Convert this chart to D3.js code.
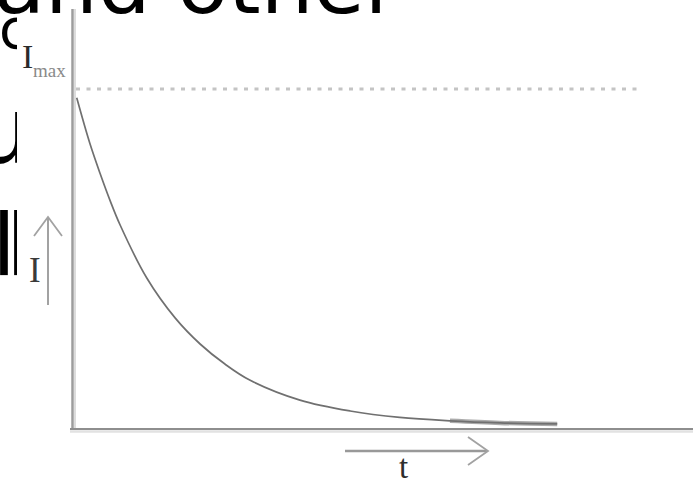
<!DOCTYPE html>
<html>
<head>
<meta charset="utf-8">
<script src="https://cdn.jsdelivr.net/npm/d3@7/dist/d3.min.js"></script>
<style>
html,body{margin:0;padding:0;background:#fff;overflow:hidden;}
svg{display:block;}
</style>
</head>
<body>
<svg id="chart" width="693" height="480"></svg>
<script>
// ---- data ----
const tValues = [0.06, 0.27, 0.44, 0.60, 0.76, 1.19, 1.65, 2.05, 2.45, 2.85, 3.66, 4.47, 5.27, 6.08, 6.89, 7.81];
const iValues = [97.4, 84.1, 75.0, 67.1, 60.0, 44.4, 32.6, 25.0, 19.1, 14.4, 8.5, 5.3, 3.4, 2.4, 1.8, 1.5];
const tailStart = 6.0;            // thick light tail of the curve begins here
const iMaxValue = 100;            // dotted reference line
const dottedEnd = 9.1;
const axisLabels = ["I", "max", "I", "t"];
const backgroundWords = ["and other", "c", "u", "ll"];

const W = 693, H = 480;
const svg = d3.select("#chart");

const x = d3.scaleLinear().domain([0, 10]).range([73, 693]);
const y = d3.scaleLinear().domain([0, 100]).range([429, 89]);

// ---- background page text (partly hidden behind the chart image) ----
const bg = svg.append("g").attr("font-family", "DejaVu Sans").attr("fill", "#000");
bg.append("text").attr("x", -6).attr("y", 13).attr("font-size", 80)
  .attr("textLength", 405).attr("lengthAdjust", "spacingAndGlyphs").text(backgroundWords[0]);
bg.append("text").attr("x", -1).attr("y", 48).attr("font-size", 55).text(backgroundWords[1]);
bg.append("text").attr("x", -27).attr("y", 163).attr("font-size", 93).text(backgroundWords[2]);
bg.append("text").attr("x", -8).attr("y", 275).attr("font-size", 86)
  .attr("letter-spacing", -10).text(backgroundWords[3]);

// chart image area (white) covering the text
svg.append("rect").attr("x", 17).attr("y", 14).attr("width", W).attr("height", H).attr("fill", "#fff");

const g = svg.append("g");

// ---- dotted Imax line ----
g.append("line")
  .attr("x1", x(0) + 3).attr("x2", x(dottedEnd))
  .attr("y1", y(iMaxValue)).attr("y2", y(iMaxValue))
  .attr("stroke", "#c4c4c4").attr("stroke-width", 3)
  .attr("stroke-dasharray", "4,6.5");

// ---- axes ----
const yTop = y.invert(9);
g.append("line").attr("x1", x(0) - 0.5).attr("x2", x(0) - 0.5)
  .attr("y1", y(yTop)).attr("y2", y(0) + 1)
  .attr("stroke", "#9c9c9c").attr("stroke-width", 2.5);
g.append("line").attr("x1", x(0) + 2).attr("x2", x(0) + 2)
  .attr("y1", y(yTop)).attr("y2", y(0) - 1)
  .attr("stroke", "#dcdcdc").attr("stroke-width", 2);
g.append("line").attr("x1", x(0) - 3).attr("x2", x(10))
  .attr("y1", y(0)).attr("y2", y(0))
  .attr("stroke", "#8e8e8e").attr("stroke-width", 2);
g.append("line").attr("x1", x(0) - 3).attr("x2", x(10))
  .attr("y1", y(0) + 2.5).attr("y2", y(0) + 2.5)
  .attr("stroke", "#e2e2e2").attr("stroke-width", 2.5);

// ---- decay curve ----
const pts = tValues.map((t, i) => ({t, v: iValues[i]}));
const line = d3.line().x(d => x(d.t)).y(d => y(d.v)).curve(d3.curveCatmullRom.alpha(0.5));
g.append("path").datum(pts.filter(d => d.t >= tailStart))
  .attr("d", line).attr("fill", "none")
  .attr("stroke", "#ababab").attr("stroke-width", 4.5);
g.append("path").datum(pts)
  .attr("d", line).attr("fill", "none")
  .attr("stroke", "#707070").attr("stroke-width", 1.7);

// ---- labels ----
g.append("text").attr("x", 22).attr("y", 68)
  .attr("font-family", "Liberation Serif").attr("font-size", 34)
  .attr("fill", "#2a2a2a").text(axisLabels[0]);
g.append("text").attr("x", 33).attr("y", 77)
  .attr("font-family", "Liberation Serif").attr("font-size", 19)
  .attr("fill", "#8a8a8a").text(axisLabels[1]);
g.append("text").attr("x", 29).attr("y", 282)
  .attr("font-family", "Liberation Serif").attr("font-size", 35)
  .attr("fill", "#3a3a3a").text(axisLabels[2]);
g.append("text").attr("x", 399).attr("y", 478)
  .attr("font-family", "Liberation Serif").attr("font-size", 33)
  .attr("fill", "#2e2e2e").text(axisLabels[3]);

// ---- arrows ----
const arrowColor = "#a2a2a2";
// vertical arrow next to I
g.append("line").attr("x1", 48).attr("x2", 48).attr("y1", 305).attr("y2", 217)
  .attr("stroke", arrowColor).attr("stroke-width", 2);
g.append("path").attr("d", "M34,236 L48,217 L62,236").attr("fill", "none")
  .attr("stroke", arrowColor).attr("stroke-width", 1.8);
// horizontal arrow above t
g.append("line").attr("x1", 345).attr("x2", 487).attr("y1", 451).attr("y2", 451)
  .attr("stroke", "#999").attr("stroke-width", 2.5);
g.append("path").attr("d", "M468,437 L488,451 L468,465").attr("fill", "none")
  .attr("stroke", arrowColor).attr("stroke-width", 1.8);
</script>
</body>
</html>
